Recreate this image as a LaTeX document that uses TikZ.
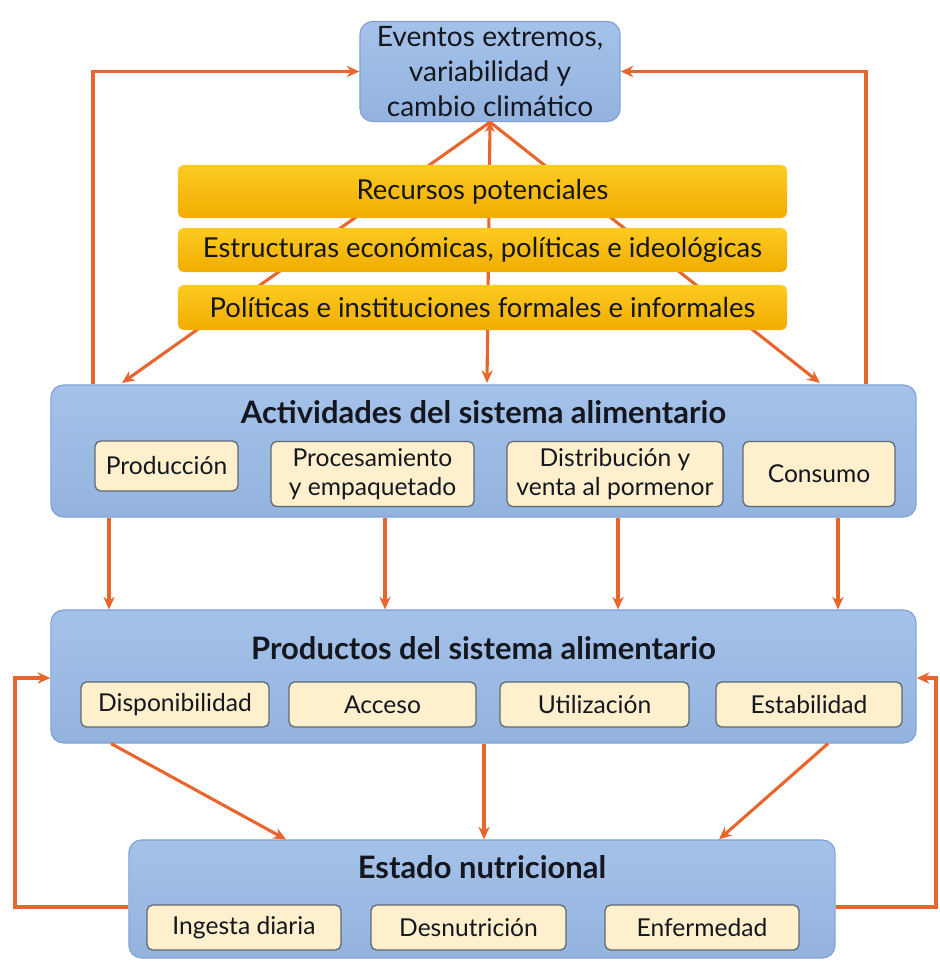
\documentclass[tikz,border=0pt]{standalone}
\usepackage{fontspec}
\setmainfont{Lato}
\usetikzlibrary{arrows.meta,calc}
\tikzset {>=Stealth}

\definecolor{boxblue}{HTML}{9BBBE4}
\definecolor{boxblueT}{HTML}{A4C2E9}
\definecolor{boxblueB}{HTML}{93B3DF}
\definecolor{edgeblue}{HTML}{7FA2D2}
\definecolor{cream}{HTML}{FEEFCD}
\definecolor{creamedge}{HTML}{5F6870}
\definecolor{goldT}{HTML}{FCCB22}
\definecolor{goldB}{HTML}{F2AC00}
\definecolor{flowred}{HTML}{E8652C}
\definecolor{ink}{HTML}{15171F}

\tikzset{
  bigbox/.style={draw=edgeblue,line width=.8pt,rounded corners=9pt,
    top color=boxblueT,bottom color=boxblueB},
  title/.style={font=\bfseries\fontsize{22}{26}\selectfont,text=ink},
  subbox/.style={draw=creamedge,line width=.9pt,rounded corners=4pt,fill=cream,
    align=center,text=ink,font=\fontsize{17.5}{21}\selectfont,inner sep=0pt},
  bar/.style={rounded corners=4pt,top color=goldT,bottom color=goldB,
    minimum width=15.225cm,text=ink,font=\fontsize{19.5}{22}\selectfont},
  flow/.style={draw=flowred,line width=2.2pt,-{Stealth[length=9pt,width=8pt]}},
}

\begin{document}
\begin{tikzpicture}[x=0.025cm,y=-0.025cm]
\useasboundingbox (0,0) rectangle (939,964);

% clima
\node[bigbox,minimum width=6.5cm,minimum height=2.325cm,align=center,
  text=ink,font=\fontsize{20}{25}\selectfont] (ev) at (490,71.5)
  {Eventos extremos,\\variabilidad y\\cambio climático};

% fan behind the bars
\coordinate (fl) at (122,383);
\coordinate (fc) at (487,383);
\coordinate (fr) at (820,383);
\draw[flow,{Stealth[length=7pt,width=7pt]}-{Stealth[length=9pt,width=8pt]}] (ev.south) -- (fc);
\draw[flow] (ev.south) -- (fl);
\draw[flow] (ev.south) -- (fr);

\node[bar,minimum height=1.325cm] (b1) at (482.5,191.5) {Recursos potenciales};
\node[bar,minimum height=1.1cm] (b2) at (482.5,250) {Estructuras económicas, políticas e ideológicas};
\node[bar,minimum height=1.125cm] (b3) at (482.5,307.5) {Políticas e instituciones formales e informales};

% actividades
\node[bigbox,minimum width=21.625cm,minimum height=3.3cm] (act) at (483.5,451) {};
\node[title] (actT) at (483.5,412) {Actividades del sistema alimentario};
\node[subbox,minimum width=3.575cm,minimum height=1.25cm] (a1) at (166.5,466) {Producción};
\node[subbox,minimum width=5.075cm,minimum height=1.625cm] (a2) at (372.5,474) {Procesamiento\\y empaquetado};
\node[subbox,minimum width=5.4cm,minimum height=1.625cm] (a3) at (615,474) {Distribución y\\venta al pormenor};
\node[subbox,minimum width=3.8cm,minimum height=1.625cm] (a4) at (819,474) {Consumo};

% productos
\node[bigbox,minimum width=21.625cm,minimum height=3.325cm] (prod) at (483.5,676.5) {};
\node[title] (prodT) at (483.5,648) {Productos del sistema alimentario};
\node[subbox,minimum width=4.7cm,minimum height=1.125cm] (p1) at (175,704.5) {Disponibilidad};
\node[subbox,minimum width=4.675cm,minimum height=1.125cm] (p2) at (382.5,704.5) {Acceso};
\node[subbox,minimum width=4.725cm,minimum height=1.125cm] (p3) at (594.5,704.5) {Utilización};
\node[subbox,minimum width=4.65cm,minimum height=1.125cm] (p4) at (809,704.5) {Estabilidad};

% estado nutricional
\node[bigbox,minimum width=17.65cm,minimum height=2.95cm] (est) at (482,899) {};
\node[title] (estT) at (482,867) {Estado nutricional};
\node[subbox,minimum width=4.85cm,minimum height=1.125cm] (e1) at (244,927.5) {Ingesta diaria};
\node[subbox,minimum width=4.875cm,minimum height=1.125cm] (e2) at (468.5,927.5) {Desnutrición};
\node[subbox,minimum width=4.85cm,minimum height=1.125cm] (e3) at (702,927.5) {Enfermedad};

% retroalimentacion hacia el clima
\draw[flow] (act.north -| 93,0) |- (ev.west);
\draw[flow] (act.north -| 866,0) |- (ev.east);

% actividades -> productos
\foreach \x in {109,385,618,838}
  \draw[flow] (act.south -| \x,0) -- (prod.north -| \x,0);

% productos -> estado
\draw[flow] (prod.south -| 111,0) -- (est.north -| 286,0);
\draw[flow] (prod.south -| 484,0) -- (est.north -| 484,0);
\draw[flow] (prod.south -| 828,0) -- (est.north -| 719,0);

% estado -> productos
\draw[flow] (est.west |- 0,907) -- (15,907) |- (prod.west |- 0,678);
\draw[flow] (est.east |- 0,907) -- (936,907) |- (prod.east |- 0,678);
\end{tikzpicture}
\end{document}
